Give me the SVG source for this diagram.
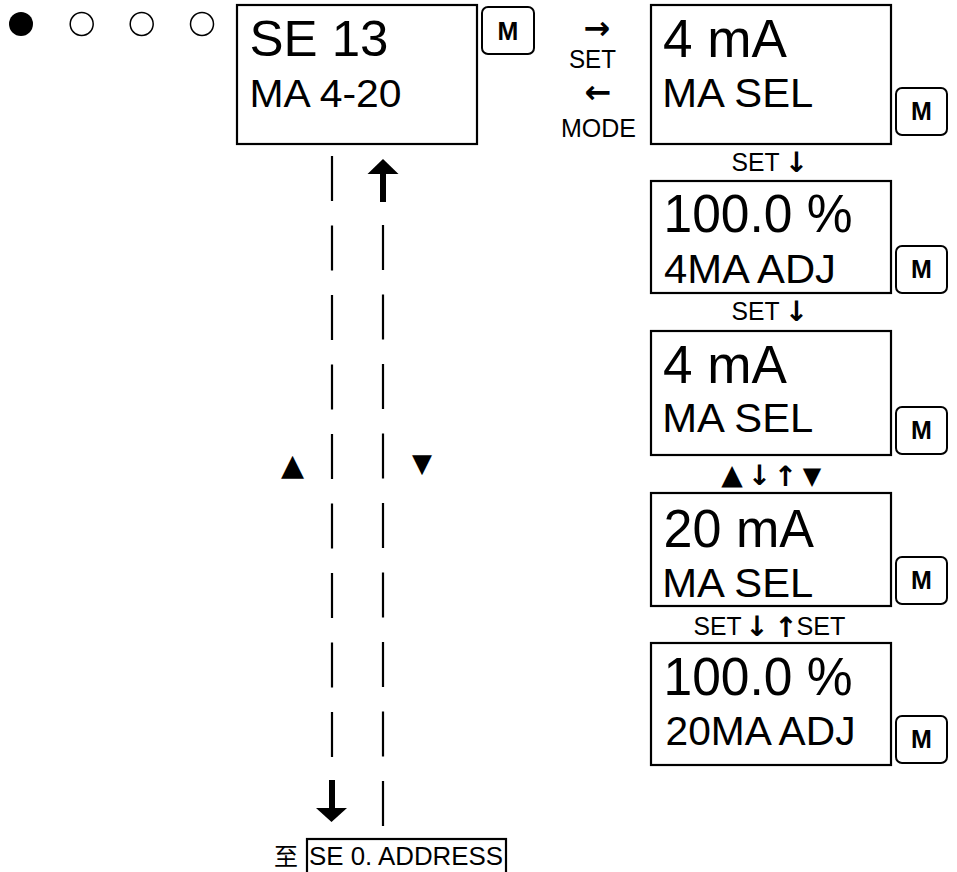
<svg xmlns="http://www.w3.org/2000/svg" width="957" height="872" viewBox="0 0 957 872">
<style>
  .box { fill: #fff; stroke: #000; stroke-width: 2.2; }
  .btn { fill: #fff; stroke: #000; stroke-width: 2; }
  .big { font-family: "Liberation Sans", Arial, sans-serif; font-size: 54px; fill: #000; }
  .mid { font-family: "Liberation Sans", Arial, sans-serif; font-size: 41px; fill: #000; }
  .lbl { font-family: "Liberation Sans", Arial, sans-serif; font-size: 25px; fill: #000; }
  .sym { font-family: "DejaVu Sans", sans-serif; fill: #000; text-anchor: middle; }
  .arr { font-family: "DejaVu Sans", sans-serif; font-weight: bold; fill: #000; text-anchor: middle; font-size: 28px; }
  .m { font-family: "Liberation Sans", Arial, sans-serif; font-size: 25px; font-weight: bold; fill: #000; text-anchor: middle; }
  .dash { fill: none; stroke: #000; stroke-width: 2.2; stroke-dasharray: 45 24.5; }
  .shaft { fill: none; stroke: #000; stroke-width: 6; }
</style>
<rect width="957" height="872" fill="#fff"/>

<g id="indicators">
  <circle cx="21" cy="24" r="12" fill="#000"/>
  <circle cx="81.7" cy="24" r="11.5" fill="none" stroke="#000" stroke-width="1.5"/>
  <circle cx="141.7" cy="24" r="11.5" fill="none" stroke="#000" stroke-width="1.5"/>
  <circle cx="202" cy="24" r="11.5" fill="none" stroke="#000" stroke-width="1.5"/>
</g>

<g id="node-se13">
  <rect class="box" x="237" y="5" width="240" height="139"/>
  <text class="big" x="249.5" y="56" style="font-size:50px" textLength="139" lengthAdjust="spacingAndGlyphs">SE 13</text>
  <text class="mid" x="249.5" y="106.5" style="font-size:39px" textLength="152" lengthAdjust="spacingAndGlyphs">MA 4-20</text>
</g>
<g id="btn-m0">
  <rect class="btn" x="482" y="7" width="52" height="47" rx="6"/>
  <text class="m" x="508" y="40">M</text>
</g>

<g id="label-set-mode">
  <text class="arr" x="597" y="39" style="font-size:32px">→</text>
  <text class="lbl" x="592.5" y="68" text-anchor="middle" textLength="47" lengthAdjust="spacingAndGlyphs">SET</text>
  <text class="arr" x="598" y="103" style="font-size:32px">←</text>
  <text class="lbl" x="598.5" y="137" text-anchor="middle" textLength="75" lengthAdjust="spacingAndGlyphs">MODE</text>
</g>

<g id="node-4ma-sel">
  <rect class="box" x="651" y="5" width="240" height="139"/>
  <text class="big" x="663" y="57" textLength="124" lengthAdjust="spacingAndGlyphs">4 mA</text>
  <text class="mid" x="662.3" y="107" textLength="151" lengthAdjust="spacingAndGlyphs">MA SEL</text>
</g>
<g id="btn-m1">
  <rect class="btn" x="896" y="88" width="51" height="47" rx="6"/>
  <text class="m" x="921.5" y="120">M</text>
</g>

<g id="label-set1">
  <text class="lbl" x="731.5" y="171" textLength="48" lengthAdjust="spacingAndGlyphs">SET</text>
  <text class="arr" x="796.5" y="171.5">↓</text>
</g>

<g id="node-4ma-adj">
  <rect class="box" x="651" y="181" width="240" height="112"/>
  <text class="big" x="663.5" y="232" textLength="189" lengthAdjust="spacingAndGlyphs">100.0 %</text>
  <text class="mid" x="664" y="283" textLength="172" lengthAdjust="spacingAndGlyphs">4MA ADJ</text>
</g>
<g id="btn-m2">
  <rect class="btn" x="896" y="246" width="51" height="47" rx="6"/>
  <text class="m" x="921.5" y="278">M</text>
</g>

<g id="label-set2">
  <text class="lbl" x="731.5" y="320" textLength="48" lengthAdjust="spacingAndGlyphs">SET</text>
  <text class="arr" x="796.5" y="320.5">↓</text>
</g>

<g id="node-4ma-sel2">
  <rect class="box" x="651" y="331" width="240" height="124"/>
  <text class="big" x="663" y="383" textLength="124" lengthAdjust="spacingAndGlyphs">4 mA</text>
  <text class="mid" x="662.3" y="432" textLength="151" lengthAdjust="spacingAndGlyphs">MA SEL</text>
</g>
<g id="btn-m3">
  <rect class="btn" x="896" y="407" width="51" height="47" rx="6"/>
  <text class="m" x="921.5" y="439">M</text>
</g>

<g id="label-updown">
  <text class="sym" x="732" y="484" style="font-size:28px">▲</text>
  <text class="arr" x="759.5" y="484.5">↓</text>
  <text class="arr" x="785.5" y="485.5">↑</text>
  <text class="sym" x="812" y="484" style="font-size:24px">▼</text>
</g>

<g id="node-20ma-sel">
  <rect class="box" x="651" y="493" width="240" height="113"/>
  <text class="big" x="663.5" y="547" textLength="150.5" lengthAdjust="spacingAndGlyphs">20 mA</text>
  <text class="mid" x="662.3" y="597" textLength="151" lengthAdjust="spacingAndGlyphs">MA SEL</text>
</g>
<g id="btn-m4">
  <rect class="btn" x="896" y="557" width="51" height="47" rx="6"/>
  <text class="m" x="921.5" y="589">M</text>
</g>

<g id="label-set3">
  <text class="lbl" x="693.5" y="635" textLength="48" lengthAdjust="spacingAndGlyphs">SET</text>
  <text class="arr" x="757" y="635.5">↓</text>
  <text class="arr" x="786" y="636.5">↑</text>
  <text class="lbl" x="796.5" y="635" textLength="49" lengthAdjust="spacingAndGlyphs">SET</text>
</g>

<g id="node-20ma-adj">
  <rect class="box" x="651" y="643" width="240" height="122"/>
  <text class="big" x="663.5" y="695" textLength="189" lengthAdjust="spacingAndGlyphs">100.0 %</text>
  <text class="mid" x="665.5" y="745" textLength="190" lengthAdjust="spacingAndGlyphs">20MA ADJ</text>
</g>
<g id="btn-m5">
  <rect class="btn" x="896" y="716" width="51" height="47" rx="6"/>
  <text class="m" x="921.5" y="748">M</text>
</g>

<g id="connectors">
  <line class="dash" x1="332" y1="156" x2="332" y2="757"/>
  <line class="dash" x1="383" y1="225" x2="383" y2="826"/>
  <line class="shaft" x1="383" y1="202" x2="383" y2="172"/>
  <polygon points="383,159 367.5,174 398.5,174" fill="#000"/>
  <line class="shaft" x1="332" y1="780" x2="332" y2="810"/>
  <polygon points="316,808 347,808 331.5,822" fill="#000"/>
  <text class="sym" x="292.5" y="475" style="font-size:30px">▲</text>
  <text class="sym" x="422" y="472" style="font-size:26px">▼</text>
</g>

<g id="node-address">
  <text x="286" y="865" style="font-family:'Liberation Sans','Noto Sans CJK SC',sans-serif;font-size:24px;text-anchor:middle">至</text>
  <rect class="box" x="307" y="839" width="199" height="45"/>
  <text x="309" y="865" style="font-family:'Liberation Sans',Arial,sans-serif;font-size:26px" textLength="194" lengthAdjust="spacingAndGlyphs">SE 0. ADDRESS</text>
</g>
</svg>
